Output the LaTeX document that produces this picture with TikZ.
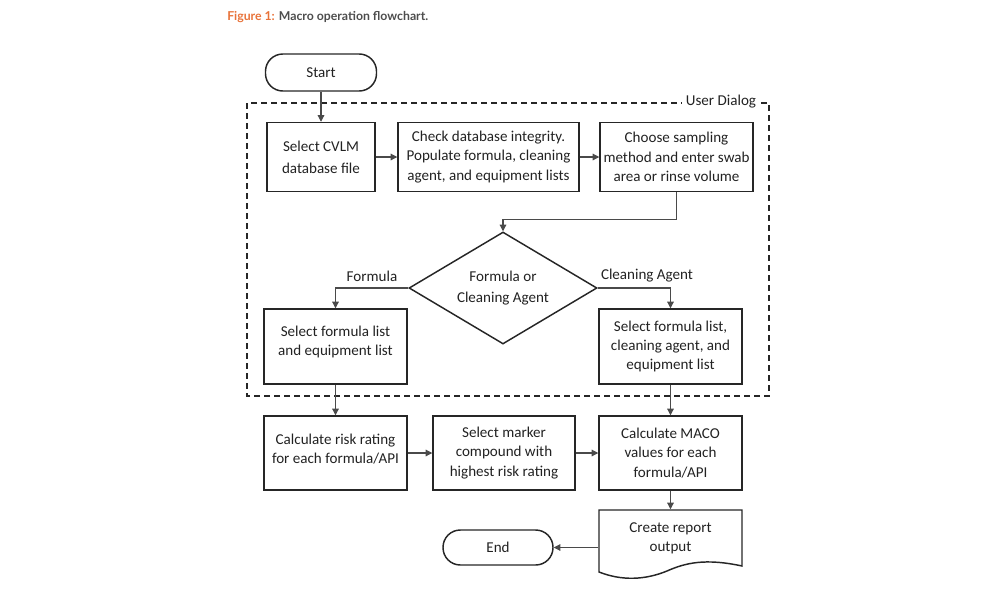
\documentclass[tikz,border=0pt]{standalone}
\usepackage{fontspec}
\setmainfont{Carlito}
\newfontfamily\titlefont{Lato}
\usetikzlibrary{arrows.meta,shapes.geometric,calc}
\definecolor{linec}{HTML}{262626}
\definecolor{connc}{HTML}{4A4A4A}
\definecolor{textc}{HTML}{222222}
\definecolor{orangec}{HTML}{E8733A}
\definecolor{titlec}{HTML}{4D4D4D}
\tikzset{
  boxnode/.style={draw=linec, line width=1.1pt, rectangle, inner sep=0pt, align=center,
    text=textc, font=\fontsize{11.3pt}{14.4pt}\selectfont},
  termnode/.style={boxnode, rounded corners=13pt},
  decnode/.style={boxnode, diamond, aspect=1.68},
  conn/.style={draw=connc, line width=0.8pt, -{Triangle[length=5pt,width=5pt]}},
  plainline/.style={draw=connc, line width=0.8pt},
  dialogframe/.style={draw=linec, line width=1.1pt, dash pattern=on 4.5pt off 3pt},
  lbl/.style={text=textc, font=\fontsize{11.3pt}{14.4pt}\selectfont, inner sep=1pt, align=center}
}
\begin{document}
\begin{tikzpicture}[x=0.75pt,y=-0.75pt]
\useasboundingbox (0,0) rectangle (1000,600);
% title
\node[anchor=west, inner sep=0pt, font=\titlefont\bfseries\fontsize{9.2pt}{11pt}\selectfont] (title) at (227,17)
  {\textcolor{orangec}{Figure 1:} \textcolor{titlec}{Macro operation flowchart.}};
% user dialog frame
\draw[dialogframe] (247,103) rectangle (769,396);
\node[lbl, fill=white, inner xsep=3pt] (ud) at (721,102) {User Dialog};
% nodes
\node[termnode, minimum width=111*0.75pt, minimum height=37*0.75pt] (start) at (321,72.5) {Start};
\node[boxnode, minimum width=108*0.75pt, minimum height=69*0.75pt] (b1) at (321,157) {Select CVLM\\[2pt]database file};
\node[boxnode, minimum width=181*0.75pt, minimum height=69*0.75pt] (b2) at (488.5,157) {Check database integrity.\\Populate formula, cleaning\\agent, and equipment lists};
\node[boxnode, minimum width=153*0.75pt, minimum height=69*0.75pt] (b3) at (676.5,157) {Choose sampling\\method and enter swab\\area or rinse volume};
\node[decnode, minimum width=188*0.75pt, minimum height=112*0.75pt] (dec) at (503,288) {Formula or\\[1pt]Cleaning Agent};
\node[boxnode, minimum width=143*0.75pt, minimum height=75*0.75pt] (b4) at (335.5,346.5) {Select formula list\\and equipment list\\[-6pt]~};
\node[boxnode, minimum width=143*0.75pt, minimum height=75*0.75pt] (b5) at (670.5,346.5) {Select formula list,\\cleaning agent, and\\equipment list};
\node[boxnode, minimum width=143*0.75pt, minimum height=74*0.75pt] (b6) at (335.5,453) {Calculate risk rating\\for each formula/API\\[-8pt]~};
\node[boxnode, minimum width=142*0.75pt, minimum height=74*0.75pt] (b7) at (504,453) {Select marker\\compound with\\highest risk rating};
\node[boxnode, minimum width=143*0.75pt, minimum height=74*0.75pt] (b8) at (670.5,453) {Calculate MACO\\values for each\\formula/API};
\node[boxnode, draw=none, minimum width=143*0.75pt, minimum height=56*0.75pt] (doc) at (670.5,538) {Create report\\output};
\draw[linec, line width=1.1pt] (599,510) -- (742,510) -- (742,566)
  .. controls (705,558) and (685,563) .. (667,571)
  .. controls (645,580) and (622,581) .. (599,572) -- cycle;
\node[termnode, minimum width=110*0.75pt, minimum height=35*0.75pt] (end) at (498,547.5) {End};
% labels
\node[lbl] (lf) at (372,276) {Formula};
\node[lbl] (lc) at (647,276) {Cleaning Agent};
% connectors
\draw[conn] (start) -- (b1);
\draw[conn] (b1) -- (b2);
\draw[conn] (b2) -- (b3);
\draw[conn] (b3.south) -- ++(0,27) -| (dec.north);
\draw[conn] (dec.west) -| (b4.north);
\draw[conn] (dec.east) -| (b5.north);
\draw[conn] (b4) -- (b6);
\draw[conn] (b5) -- (b8);
\draw[conn] (b6) -- (b7);
\draw[conn] (b7) -- (b8);
\draw[conn] (b8) -- (doc);
\draw[conn] (doc.west |- end.east) -- (end.east);
\end{tikzpicture}
\end{document}
